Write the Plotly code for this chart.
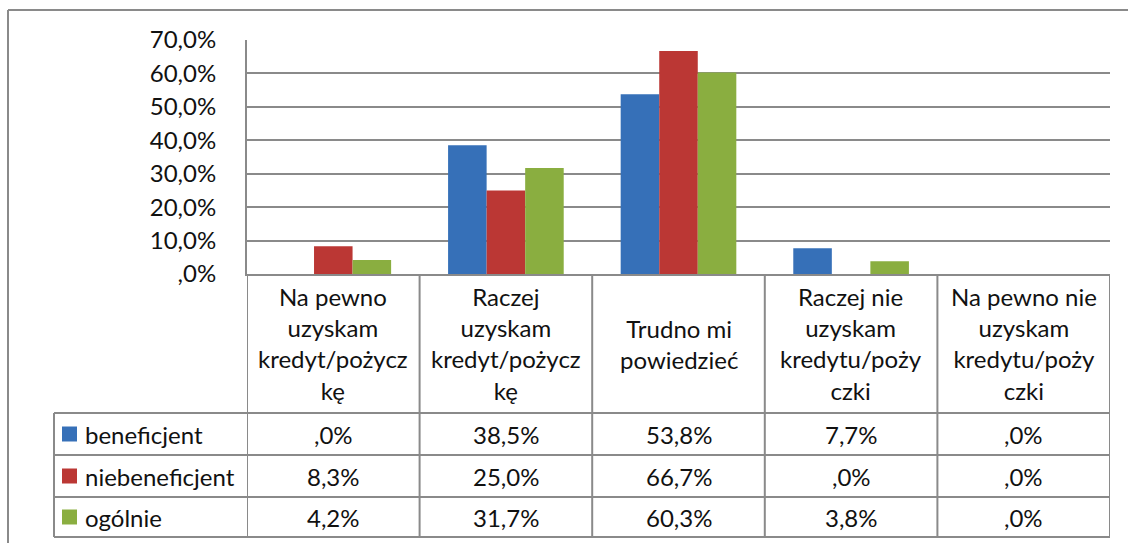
import plotly.graph_objects as go

# --- data -------------------------------------------------------------
categories = [
    "Na pewno uzyskam kredyt/pożyczkę",
    "Raczej uzyskam kredyt/pożyczkę",
    "Trudno mi powiedzieć",
    "Raczej nie uzyskam kredytu/pożyczki",
    "Na pewno nie uzyskam kredytu/pożyczki",
]
header_labels = [
    "Na pewno<br>uzyskam<br>kredyt/pożycz<br>kę",
    "Raczej<br>uzyskam<br>kredyt/pożycz<br>kę",
    "Trudno mi<br>powiedzieć",
    "Raczej nie<br>uzyskam<br>kredytu/poży<br>czki",
    "Na pewno nie<br>uzyskam<br>kredytu/poży<br>czki",
]
series_names = ["beneficjent", "niebeneficjent", "ogólnie"]
beneficjent = [0.0, 38.5, 53.8, 7.7, 0.0]
niebeneficjent = [8.3, 25.0, 66.7, 0.0, 0.0]
ogolnie = [4.2, 31.7, 60.3, 3.8, 0.0]
y_ticks = [0, 10, 20, 30, 40, 50, 60, 70]
y_tick_labels = [",0%", "10,0%", "20,0%", "30,0%", "40,0%", "50,0%", "60,0%", "70,0%"]

series_values = [beneficjent, niebeneficjent, ogolnie]
colors = ["#3670B8", "#BB3734", "#8AAE40"]

# --- page geometry (pixels) -------------------------------------------
W, H = 1128, 543
FONT = "Lato"
FS = 24
TXT = "#111111"
GRID = "#8a8a8a"


def py(y):
    """pixel row -> paper y"""
    return 1 - y / H


def px(x):
    return x / W


plot_left, plot_right = 247, 1110
plot_top, plot_bottom = 40, 274
header_bottom = 413
row_lines = [413, 455, 497, 537]
table_left = 54


def fmt(v):
    s = f"{v:.1f}".replace(".", ",")
    if s.startswith("0,"):
        s = s[1:]
    return s + "%"


fig = go.Figure()
for name, vals, col in zip(series_names, series_values, colors):
    fig.add_trace(go.Bar(
        x=categories, y=vals, name=name,
        marker=dict(color=col, line=dict(width=0)),
        showlegend=False, hoverinfo="skip",
    ))

shapes = []
annotations = []
line = dict(color=GRID, width=2)

# outer frame (left and top edges; the rest runs past the page)
shapes.append(dict(type="line", xref="paper", yref="paper",
                   x0=px(8), x1=1, y0=py(10), y1=py(10), line=line))
shapes.append(dict(type="line", xref="paper", yref="paper",
                   x0=px(8), x1=px(8), y0=py(10), y1=0, line=line))

# table: column separators
n = len(categories)
for i in range(n + 1):
    shapes.append(dict(type="line", xref="x", yref="paper",
                       x0=i - 0.5, x1=i - 0.5,
                       y0=py(plot_bottom), y1=py(row_lines[-1]), line=line))
# legend column left edge
shapes.append(dict(type="line", xref="paper", yref="paper",
                   x0=px(table_left), x1=px(table_left),
                   y0=py(row_lines[0]), y1=py(row_lines[-1]), line=line))
# row separators
for r in row_lines:
    shapes.append(dict(type="line", xref="paper", yref="paper",
                       x0=px(table_left), x1=px(plot_right),
                       y0=py(r), y1=py(r), line=line))

# header cells
for cat, lab in zip(categories, header_labels):
    annotations.append(dict(
        x=cat, xref="x", y=py((plot_bottom + header_bottom) / 2), yref="paper",
        text=lab, showarrow=False, xanchor="center", yanchor="middle",
        font=dict(family=FONT, size=FS, color=TXT), align="center",
    ))

# value rows with legend keys
for k, (name, vals, col) in enumerate(zip(series_names, series_values, colors)):
    yc = (row_lines[k] + row_lines[k + 1]) / 2
    shapes.append(dict(type="rect", xref="paper", yref="paper",
                       x0=px(62), x1=px(77), y0=py(yc - 7.5), y1=py(yc + 7.5),
                       fillcolor=col, line=dict(width=0)))
    annotations.append(dict(
        x=px(83), xref="paper", y=py(yc), yref="paper", text=name,
        showarrow=False, xanchor="left", yanchor="middle",
        font=dict(family=FONT, size=FS, color=TXT),
    ))
    for cat, v in zip(categories, vals):
        annotations.append(dict(
            x=cat, xref="x", y=py(yc), yref="paper", text=fmt(v),
            showarrow=False, xanchor="center", yanchor="middle",
            font=dict(family=FONT, size=FS, color=TXT),
        ))

fig.update_layout(
    width=W, height=H, autosize=False,
    margin=dict(l=0, r=0, t=0, b=0, pad=0, autoexpand=False),
    paper_bgcolor="white", plot_bgcolor="white",
    barmode="group", bargap=0.33, bargroupgap=0,
    xaxis=dict(domain=[px(plot_left), px(plot_right)], automargin=False,
               range=[-0.5, n - 0.5], showticklabels=False,
               showgrid=False, zeroline=False, showline=True,
               linecolor=GRID, linewidth=2, ticks=""),
    yaxis=dict(domain=[py(plot_bottom), py(plot_top)], range=[0, 70],
               automargin=False,
               tickvals=y_ticks, ticktext=y_tick_labels,
               showgrid=True, gridcolor=GRID, gridwidth=2,
               zeroline=False, showline=True, linecolor=GRID, linewidth=2,
               ticks="", ticklabelstandoff=24,
               tickfont=dict(family=FONT, size=FS, color=TXT)),
    shapes=shapes, annotations=annotations,
)

fig.write_html("out.html")
